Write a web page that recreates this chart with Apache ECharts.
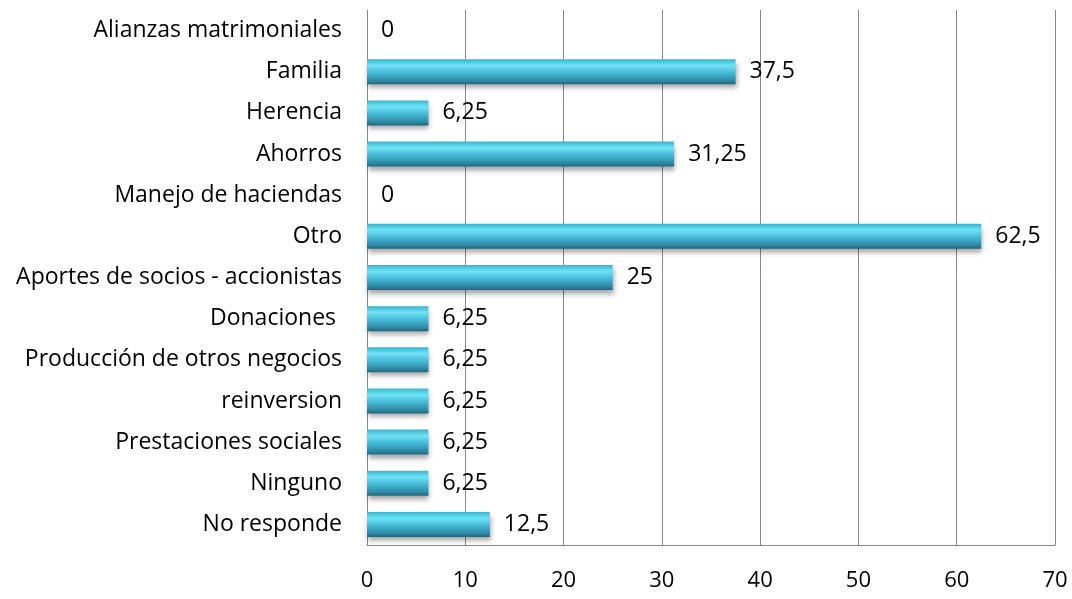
<!DOCTYPE html>
<html>
<head>
<meta charset="utf-8">
<script src="https://cdn.jsdelivr.net/npm/echarts@6/dist/echarts.min.js"></script>
<style>
  html, body { margin: 0; padding: 0; background: #fff; }
  #main { width: 1072px; height: 599px; }
</style>
</head>
<body>
<div id="main"></div>
<script>
// categories top to bottom as in the picture
const categories = [
  'Alianzas matrimoniales',
  'Familia',
  'Herencia',
  'Ahorros',
  'Manejo de haciendas',
  'Otro',
  'Aportes de socios - accionistas',
  'Donaciones ',
  'Producción de otros negocios',
  'reinversion',
  'Prestaciones sociales',
  'Ninguno',
  'No responde'
];
const values = [0, 37.5, 6.25, 31.25, 0, 62.5, 25, 6.25, 6.25, 6.25, 6.25, 6.25, 12.5];
const xTicks = [0, 10, 20, 30, 40, 50, 60, 70];

const fontFamily = '"Open Sans", Lato, sans-serif';

const chart = echarts.init(document.getElementById('main'));

chart.setOption({
  animation: false,
  grid: { left: 367, right: 17, top: 10, bottom: 54, containLabel: false },
  xAxis: {
    type: 'value',
    min: xTicks[0],
    max: xTicks[xTicks.length - 1],
    interval: 10,
    axisLine: { show: true, lineStyle: { color: '#888', width: 1 } },
    axisTick: { show: false },
    axisLabel: { margin: 25, color: '#000', fontSize: 22, fontFamily: fontFamily },
    splitLine: { show: true, lineStyle: { color: '#888', width: 1 } }
  },
  yAxis: {
    type: 'category',
    inverse: true,
    data: categories,
    axisLine: { show: true, lineStyle: { color: '#888', width: 1 } },
    axisTick: { show: false },
    axisLabel: { margin: 25, color: '#000', fontSize: 23, fontFamily: fontFamily }
  },
  series: [{
    type: 'bar',
    data: values,
    barWidth: 25,
    itemStyle: {
      color: new echarts.graphic.LinearGradient(0, 0, 0, 1, [
        { offset: 0, color: '#39b3cf' },
        { offset: 0.25, color: '#6fe2f6' },
        { offset: 0.55, color: '#44b9d6' },
        { offset: 0.85, color: '#2f8ba6' },
        { offset: 1, color: '#22667c' }
      ]),
      shadowColor: 'rgba(0,0,0,0.35)',
      shadowBlur: 5,
      shadowOffsetX: 1,
      shadowOffsetY: 4
    },
    label: {
      show: true,
      position: 'right',
      distance: 14,
      color: '#000',
      fontSize: 23,
      fontFamily: fontFamily,
      formatter: p => String(p.value).replace('.', ',')
    }
  }]
});
</script>
</body>
</html>
